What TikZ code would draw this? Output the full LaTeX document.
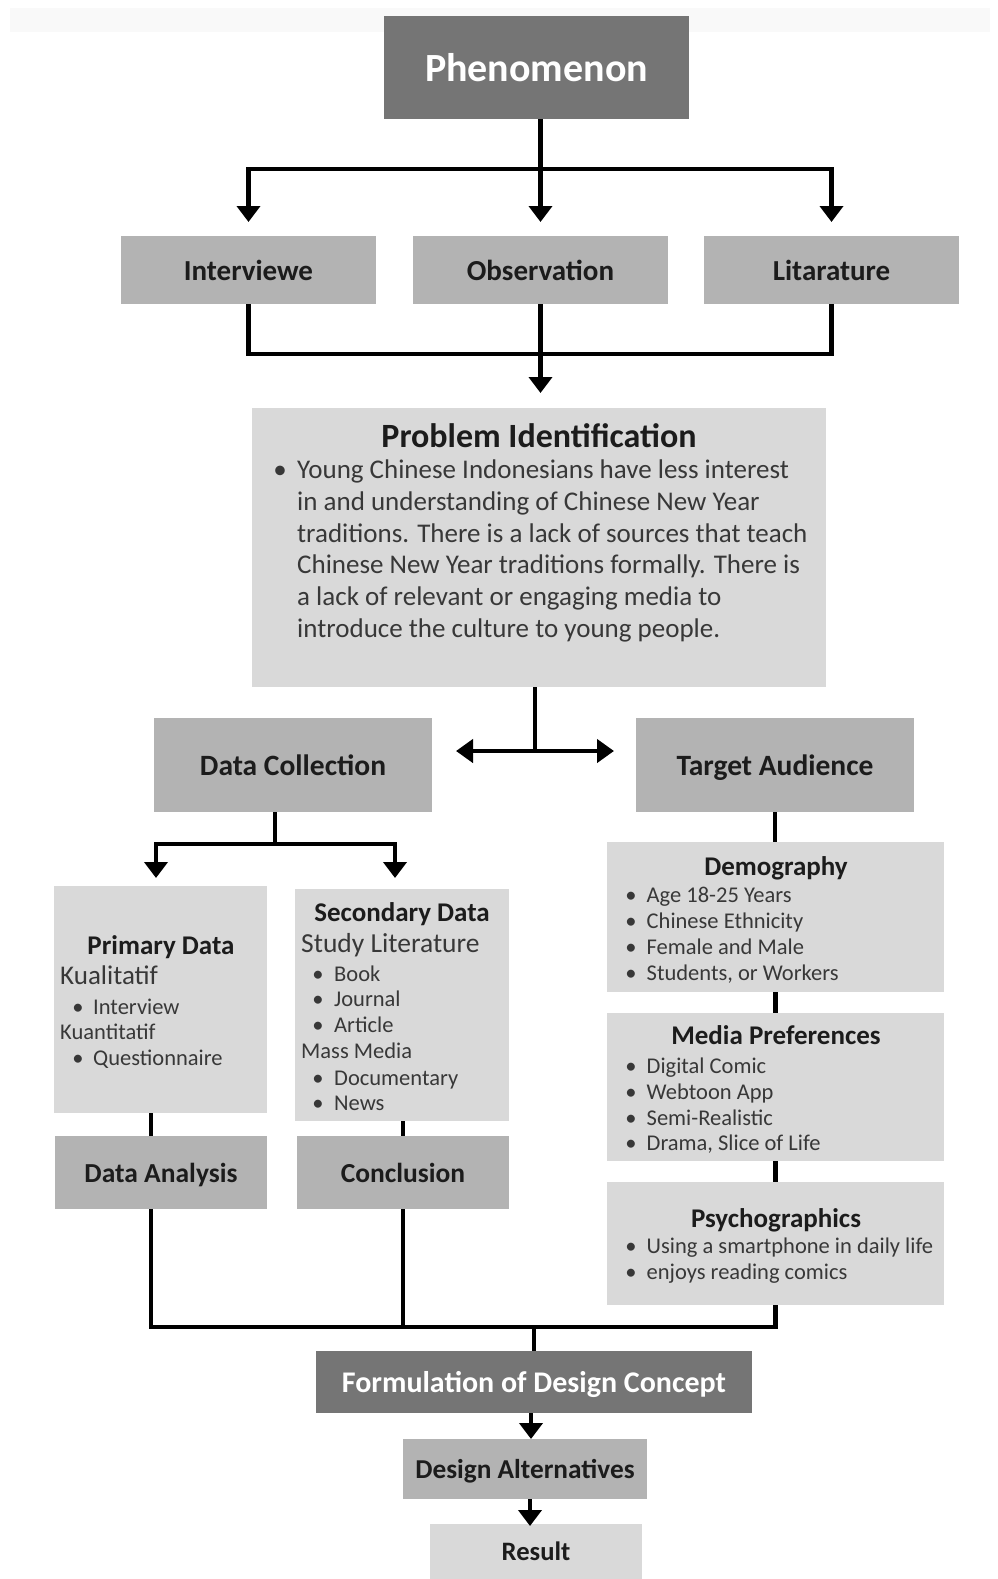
\documentclass[tikz,border=0pt]{standalone}
\usepackage{fontspec}
\setmainfont{Carlito}
\usetikzlibrary{arrows.meta}
\definecolor{cDark}{HTML}{757575}
\definecolor{cMid}{HTML}{B3B3B3}
\definecolor{cLight}{HTML}{D9D9D9}
\definecolor{cHead}{HTML}{1C1C1C}
\definecolor{cBody}{HTML}{383838}
\definecolor{cBand}{HTML}{F9F9F9}
\newcommand{\fsz}[1]{\fontsize{#1}{#1}\selectfont}
\begin{document}
\begin{tikzpicture}[x=1pt,y=-1pt,
  box/.style={inner sep=0pt, outer sep=0pt, draw=none, text depth=0pt},
  darkbox/.style={box, fill=cDark, text=white},
  midbox/.style={box, fill=cMid, text=cHead},
  lightbox/.style={box, fill=cLight, text=cHead},
  hd/.style={font=\bfseries\fsz{#1}},
  ttl/.style={inner sep=0pt, anchor=mid, yshift=-7pt, text=cHead, font=\bfseries\fsz{27}},
  item/.style={inner sep=0pt, anchor=mid west, yshift=-6.5pt, text=cBody, font=\fsz{22.5}},
  bul/.style={inner sep=0pt, anchor=mid, yshift=-6.5pt, text=cBody, font=\fsz{22.5}},
  ln/.style={line width=4.5pt, draw=black},
  arr/.style={ln, -{Triangle[width=23pt,length=16pt]}},
  arrb/.style={ln, {Triangle[width=23pt,length=17pt]}-{Triangle[width=23pt,length=17pt]}},
]
\useasboundingbox (0,0) rectangle (998,1579);
\fill[cBand] (10,8) rectangle (990,32);

% ---------- boxes ----------
\node[darkbox, minimum width=305pt, minimum height=103pt, hd=40] (phen) at (536.5,67.5) {Phenomenon};

\node[midbox, minimum width=255pt, minimum height=68pt, hd=29] (intv) at (248.5,270) {Interviewe};
\node[midbox, minimum width=255pt, minimum height=68pt, hd=29] (obs) at (540.5,270) {Observation};
\node[midbox, minimum width=255pt, minimum height=68pt, hd=29] (lit) at (831.5,270) {Litarature};

\node[lightbox, minimum width=574pt, minimum height=279pt] (prob) at (539,547.5) {};
\node[ttl, yshift=-2pt, font=\bfseries\fsz{34}] (probt) at (539,436) {Problem Identification};
\node[bul, font=\fsz{27}] (probb) at (280,470) {•};
\foreach \t [count=\i] in {{Young Chinese Indonesians have less interest},{in and understanding of Chinese New Year},{traditions. There is a lack of sources that teach},{Chinese New Year traditions formally. There is},{a lack of relevant or engaging media to},{introduce the culture to young people.}}
  \node[item, font=\fsz{27}] (pl\i) at (297,{470+31.7*(\i-1)}) {\t};

\node[midbox, minimum width=278pt, minimum height=94pt, hd=29.5] (dc) at (293,765) {Data Collection};
\node[midbox, minimum width=278pt, minimum height=94pt, hd=29.5] (ta) at (775,765) {Target Audience};

% primary data
\node[lightbox, minimum width=213pt, minimum height=227pt] (prim) at (160.5,999.5) {};
\node[ttl] (primt) at (161,945) {Primary Data};
\node[item, font=\fsz{27}] (primk1) at (60,976) {Kualitatif};
\node[bul] (primb1) at (78,1006) {•};
\node[item] (primi1) at (93,1006) {Interview};
\node[item] (primk2) at (60,1031) {Kuantitatif};
\node[bul] (primb2) at (78,1057) {•};
\node[item] (primi2) at (93,1057) {Questionnaire};

% secondary data
\node[lightbox, minimum width=214pt, minimum height=232pt] (sec) at (402,1005) {};
\node[ttl] (sect) at (402,912.5) {Secondary Data};
\node[item, font=\fsz{27.5}] (secs) at (301,943.5) {Study Literature};
\foreach \t/\y [count=\i] in {Book/973,Journal/998,Article/1024}{
  \node[bul] (secb\i) at (318,\y) {•};
  \node[item] (sect\i) at (334,\y) {\t};
}
\node[item] (secm) at (301,1050) {Mass Media};
\foreach \t/\y [count=\i] in {Documentary/1076.5,News/1102}{
  \node[bul] (secmb\i) at (318,\y) {•};
  \node[item] (secmt\i) at (334,\y) {\t};
}

\node[midbox, minimum width=212pt, minimum height=73pt, hd=27.5] (da) at (161,1172.5) {Data Analysis};
\node[midbox, minimum width=212pt, minimum height=73pt, hd=27.5] (concl) at (403,1172.5) {Conclusion};

% target audience details
\node[lightbox, minimum width=337pt, minimum height=150pt] (demo) at (775.5,917) {};
\node[ttl] (demot) at (776,866) {Demography};
\foreach \t [count=\i] in {{Age 18-25 Years},{Chinese Ethnicity},{Female and Male},{Students, or Workers}}{
  \node[bul] (demb\i) at (631,{894+26*(\i-1)}) {•};
  \node[item] (demi\i) at (646.5,{894+26*(\i-1)}) {\t};
}
\node[lightbox, minimum width=337pt, minimum height=148pt] (media) at (775.5,1087) {};
\node[ttl] (mediat) at (776,1035) {Media Preferences};
\foreach \t [count=\i] in {{Digital Comic},{Webtoon App},{Semi-Realistic},{Drama, Slice of Life}}{
  \node[bul] (medb\i) at (631,{1064.5+25.8*(\i-1)}) {•};
  \node[item] (medi\i) at (646.5,{1064.5+25.8*(\i-1)}) {\t};
}
\node[lightbox, minimum width=337pt, minimum height=123pt] (psy) at (775.5,1243.5) {};
\node[ttl] (psyt) at (776,1218.5) {Psychographics};
\foreach \t [count=\i] in {{Using a smartphone in daily life},{enjoys reading comics}}{
  \node[bul] (psyb\i) at (631,{1245+26*(\i-1)}) {•};
  \node[item] (psyi\i) at (646.5,{1245+26*(\i-1)}) {\t};
}

\node[darkbox, minimum width=436pt, minimum height=62pt, hd=30] (form) at (534,1382) {Formulation of Design Concept};
\node[midbox, minimum width=244pt, minimum height=60pt, hd=27.3] (dalt) at (525,1469) {Design Alternatives};
\node[lightbox, minimum width=212pt, minimum height=55pt, hd=26.6] (res) at (536,1551.5) {Result};

% ---------- connectors ----------
\coordinate (b1) at (540.5,169);
\draw[ln] (phen.south -| b1) -- (b1);
\draw[ln, line cap=rect] (b1 -| intv.north) -- (b1 -| lit.north);
\draw[arr, shorten >=14pt] (b1 -| intv.north) -- (intv.north);
\draw[arr, shorten >=14pt] (b1) -- (obs.north);
\draw[arr, shorten >=14pt] (b1 -| lit.north) -- (lit.north);

\coordinate (b2) at (540.5,354);
\draw[ln] (intv.south) -- (intv.south |- b2);
\draw[ln] (obs.south) -- (obs.south |- b2);
\draw[ln] (lit.south) -- (lit.south |- b2);
\draw[ln, line cap=rect] (b2 -| intv.south) -- (b2 -| lit.south);
\draw[arr, shorten >=15pt] (b2) -- (prob.north -| b2);

\coordinate (b3) at (535,751);
\draw[ln] (prob.south -| b3) -- (b3);
\draw[arrb, shorten <=24pt, shorten >=22pt] (b3 -| dc.east) -- (b3 -| ta.west);

\coordinate (b4) at (275,844);
\coordinate (pa) at (156,886);
\coordinate (sa) at (395,889);
\draw[ln] (dc.south -| b4) -- (b4);
\draw[ln, line cap=rect] (b4 -| pa) -- (b4 -| sa);
\draw[arr, shorten >=8pt] (b4 -| pa) -- (pa);
\draw[arr, shorten >=11pt] (b4 -| sa) -- (sa);

\coordinate (xa) at (151,0);
\draw[ln] (prim.south -| xa) -- (da.north -| xa);
\draw[ln] (sec.south -| concl.north) -- (concl.north);

\draw[ln] (ta.south) -- (ta.south |- demo.north);
\draw[ln] (demo.south) -- (demo.south |- media.north);
\draw[ln] (media.south) -- (media.south |- psy.north);

\coordinate (b5) at (534,1327);
\draw[ln] (da.south -| xa) -- (b5 -| xa);
\draw[ln] (concl.south) -- (b5 -| concl.south);
\draw[ln] (psy.south) -- (b5 -| psy.south);
\draw[ln, line cap=rect] (b5 -| xa) -- (b5 -| psy.south);
\draw[ln] (b5) -- (form.north);

\coordinate (xf) at (531,0);
\draw[arr] (form.south -| xf) -- (dalt.north -| xf);
\coordinate (xd) at (530,0);
\draw[arr, shorten >=-2pt] (dalt.south -| xd) -- (res.north -| xd);
\end{tikzpicture}
\end{document}
